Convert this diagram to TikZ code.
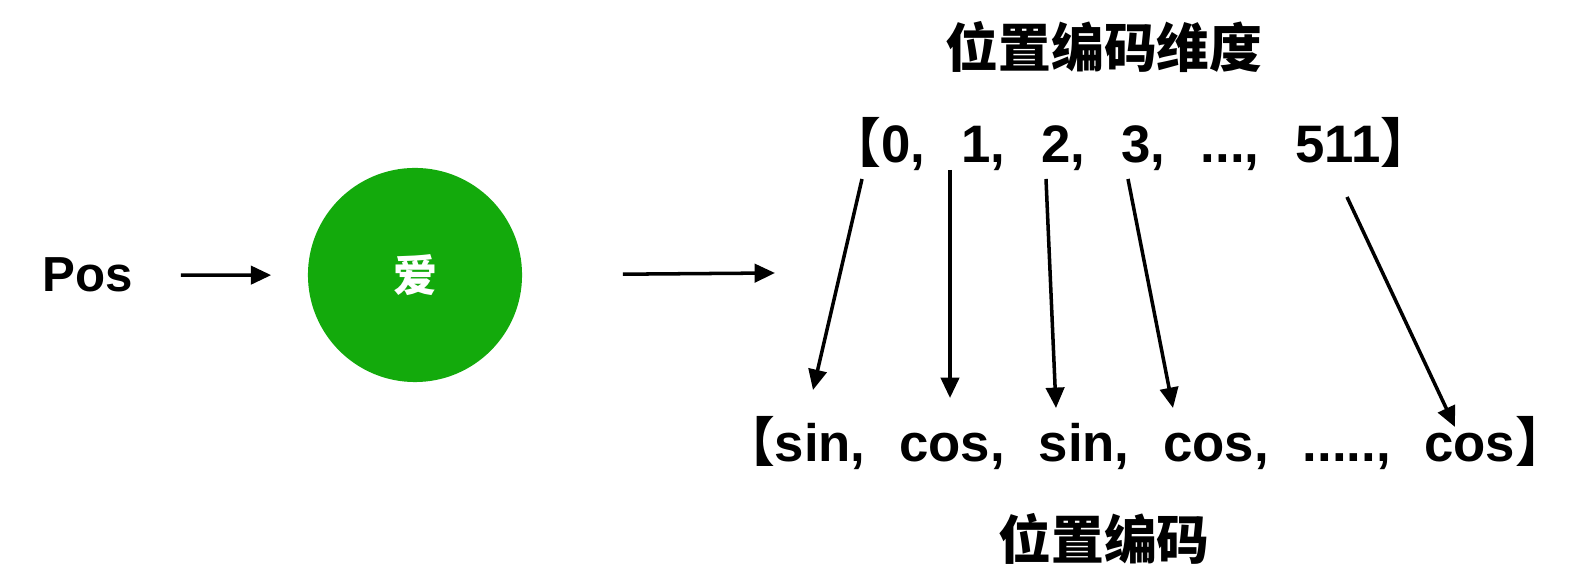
\documentclass[tikz,border=0pt]{standalone}
\usepackage{fontspec}
\setmainfont{Liberation Sans}
\newfontfamily\cjk{Noto Sans CJK SC}
\usepackage{xcolor}
\usetikzlibrary{arrows.meta, positioning}

\definecolor{embgreen}{RGB}{19,170,12}
\newcommand\lbrk{\makebox[0.55em][r]{\cjk 【}}
\newcommand\rbrk{\makebox[0.55em][l]{\cjk 】}}
\newcommand\cma{,\hspace{0.68em}}
\newcommand\cmb{,\hspace{0.64em}}

\begin{document}
\begin{tikzpicture}[x=0.01cm, y=-0.01cm]
        \tikzset{arr/.style={-{Triangle[length=5.8pt,width=5.2pt]}, line width=1pt},
            txt/.style={font=\fontsize{14}{17}\selectfont\bfseries, inner sep=2pt}}

        \useasboundingbox (0, 0) rectangle (1569, 574);

        \node[txt, anchor=base] (pos) at (88, 292) {Pos};
        \node[circle, fill=embgreen, minimum size=2.14cm, inner sep=0] (emb) at (415, 275)
            {\color{white}\fontsize{12.5}{15}\selectfont\bfseries\cjk 爱};

        \node[txt, font=\fontsize{15}{18}\selectfont\bfseries\cjk] (dimtitle) at (1104, 47) {位置编码维度};
        \node[txt, font=\fontsize{15}{18}\selectfont\bfseries, anchor=base] (dims) at (1131, 163)
            {\lbrk 0\cma 1\cma 2\cma 3\cma ...\cma 511\rbrk};
        \node[txt, font=\fontsize{15}{18}\selectfont\bfseries, anchor=base] (pe) at (1145, 462)
            {\lbrk sin\cmb cos\cmb sin\cmb cos\cmb .....\cmb cos\rbrk};
        \node[txt, font=\fontsize{15}{18}\selectfont\bfseries\cjk] (petitle) at (1104, 539) {位置编码};

        % arrow ends
        \coordinate (vec) at (775, 273);
        \coordinate (t0) at (862, 179);
        \coordinate (t1) at (950, 170);
        \coordinate (t2) at (1046, 179);
        \coordinate (t3) at (1128, 179);
        \coordinate (t4) at (1347, 197);
        \coordinate (b0) at (813, 390);
        \coordinate (b1) at (950, 398);
        \coordinate (b2) at (1056, 408);
        \coordinate (b3) at (1173, 408);
        \coordinate (b4) at (1455, 427);

        \draw[arr, shorten <=0.4cm, shorten >=0.36cm] (pos) -- (emb);
        \draw[arr, shorten <=1cm] (emb.east) -- (vec);

        \foreach \i in {0,...,4}
            \draw[arr] (t\i) -- (b\i);

    \end{tikzpicture}
\end{document}
